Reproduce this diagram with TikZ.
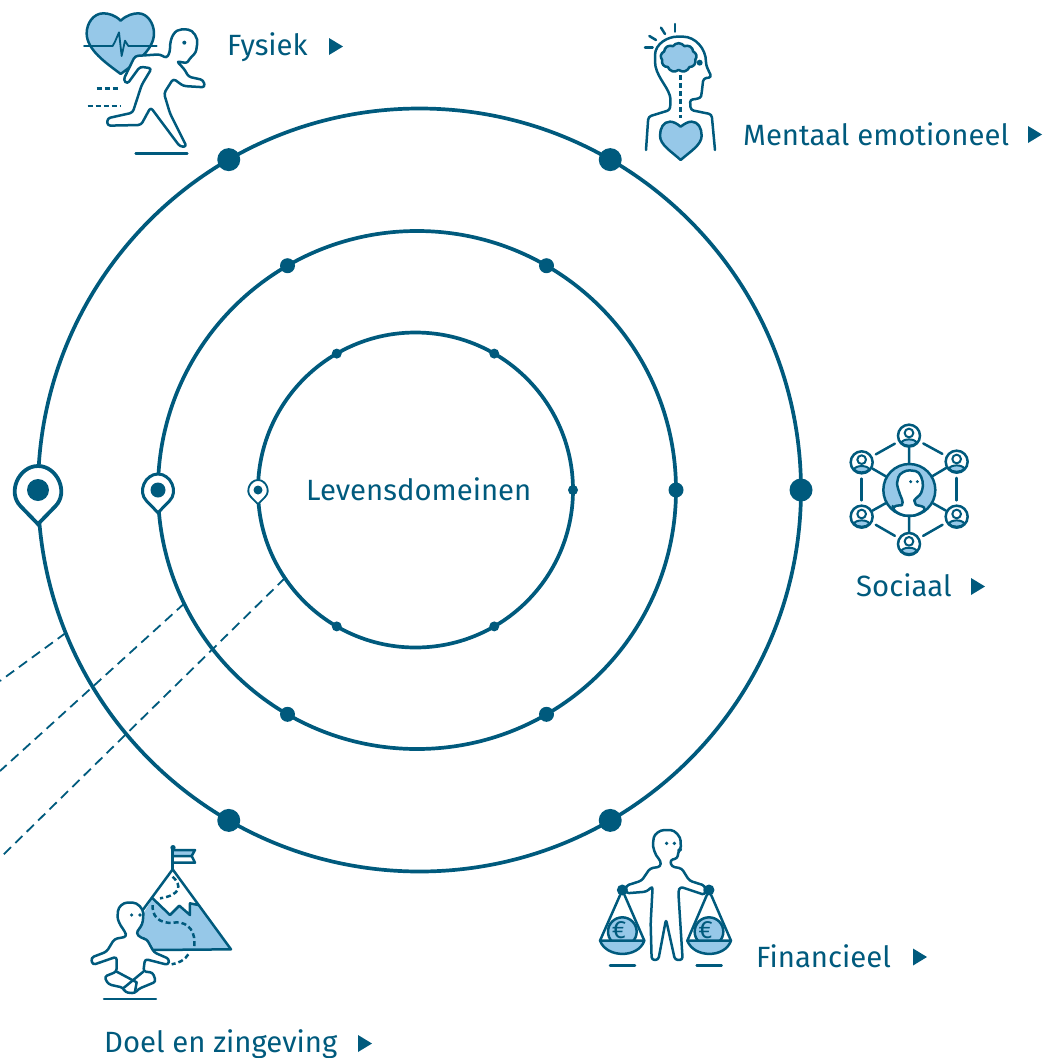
\documentclass[tikz,border=0pt]{standalone}
\usepackage{fontspec}
\setmainfont{Fira Sans}
\usetikzlibrary{shapes.symbols}
\definecolor{ringblue}{RGB}{0,90,125}
\definecolor{skyblue}{RGB}{150,200,232}
\tikzset{
	ring/.style={circle,draw=ringblue,line width=3.7pt,inner sep=0pt,outer sep=0pt},
	ringdot/.style={circle,fill=ringblue,inner sep=0pt,outer sep=0pt},
	spoor/.style={draw=ringblue,line width=1.8pt,dash pattern=on 10pt off 6pt},
	iconline/.style={draw=ringblue,line width=2.5pt,line join=round,line cap=round},
	iconfill/.style={iconline,fill=skyblue},
	iconbody/.style={iconline,fill=white,rounded corners=3pt},
	icondash/.style={iconline,line cap=butt,dash pattern=on 5pt off 3pt},
	iconeye/.style={fill=ringblue},
	tekst/.style={text=ringblue,anchor=base west,inner sep=0pt,font=\fontsize{29.3}{32}\selectfont},
	friend/.style={circle,draw=ringblue,line width=2.5pt,fill=white,inner sep=0pt,minimum size=22pt},
	hub/.style={circle,draw=ringblue,line width=2.5pt,fill=skyblue,inner sep=0pt,minimum size=52pt},
	pinmark/.pic={
		\path[fill=white,draw=ringblue,line width=\pinline] (0,1.42) -- (-.72,.68)
			.. controls (-1.3,.1) and (-.8,-1) .. (0,-1)
			.. controls (.8,-1) and (1.3,.1) .. (.72,.68) -- cycle;
	},
	tipmark/.pic={
		\fill[ringblue] (0,-8.5) -- (14,0) -- (0,8.5) -- cycle;
	}
}
\newcommand{\pinline}{3pt}
\begin{document}
\begin{tikzpicture}[x=1pt,y=-1pt]
	\useasboundingbox (0,0) rectangle (1044,1058);

	\node[ring,minimum size=763pt] (outer) at (419.5,490) {};
	\node[ring,minimum size=518pt] (middle) at (417,490) {};
	\node[ring,minimum size=315pt] (inner) at (415.5,490) {};

	\foreach \a in {0,60,120,240,300}{
		\node[ringdot,minimum size=23pt] at (outer.\a) {};
		\node[ringdot,minimum size=15pt] at (middle.\a) {};
		\node[ringdot,minimum size=10pt] at (inner.\a) {};
	}

	\coordinate (endouter) at (0,681);
	\coordinate (endmiddle) at (0,771);
	\coordinate (endinner) at (0,858);
	\draw[spoor] (outer.202) -- (endouter);
	\draw[spoor] (middle.206) -- (endmiddle);
	\draw[spoor] (inner.214) -- (endinner);

	\renewcommand{\pinline}{3.8pt}
	\pic[scale=24] at (outer.180) {pinmark};
	\node[ringdot,minimum size=22pt] at (outer.180) {};
	\renewcommand{\pinline}{3pt}
	\pic[scale=16] at (middle.180) {pinmark};
	\node[ringdot,minimum size=15pt] at (middle.180) {};
	\renewcommand{\pinline}{1.8pt}
	\pic[scale=10] at (inner.180) {pinmark};
	\node[ringdot,minimum size=9pt] at (inner.180) {};

	\node[tekst] (centre) at (306,500) {Levensdomeinen};
	\node[tekst] (fysiek) at (227,55) {Fysiek};
	\node[tekst] (mentaal) at (743,145) {Mentaal emotioneel};
	\node[tekst] (sociaal) at (856,596) {Sociaal};
	\node[tekst] (financieel) at (756,967) {Financieel};
	\node[tekst] (doel) at (104,1052) {Doel en zingeving};
	\pic at (329,46.5) {tipmark};
	\pic at (1028,134.5) {tipmark};
	\pic at (971,586.5) {tipmark};
	\pic at (913,957) {tipmark};
	\pic at (358,1043.5) {tipmark};

	\begin{scope}[shift={(70,0)},scale=.3333]
		\path[iconfill] (152,62) .. controls (135,45) and (115,40) .. (100,40)
			.. controls (70,40) and (50,70) .. (50,100)
			.. controls (50,150) and (110,190) .. (152,222)
			.. controls (195,190) and (252,150) .. (252,100)
			.. controls (252,70) and (232,40) .. (205,40)
			.. controls (190,40) and (170,45) .. (152,62) -- cycle;
		\draw[iconline,line width=1.8pt] (42,138) -- (128,138) -- (135,125) -- (147,97) -- (155,168) -- (165,122) -- (175,138) -- (260,138);
		\path[iconbody] (160,240) -- (195,168) -- (270,163) -- (290,175) -- (300,155)
			.. controls (300,110) and (315,88) .. (345,88)
			.. controls (370,90) and (385,115) .. (380,140)
			.. controls (378,160) and (365,170) .. (358,178)
			.. controls (350,190) and (335,187) .. (320,183)
			-- (345,210) -- (355,230) -- (400,240) -- (405,262) -- (340,258) -- (310,236)
			-- (282,280) -- (300,340) -- (350,440) -- (330,440) -- (242,322) -- (213,375)
			-- (112,377) -- (112,355) -- (188,338) -- (215,255) -- (245,205) -- (210,200)
			-- (172,252) -- cycle;
		\fill[iconeye] (343,128) circle (6);
		\draw[icondash] (80,265) -- (150,265);
		\draw[icondash] (53,318) -- (150,318);
		\draw[iconline] (197,460) -- (352,460);
	\end{scope}

	\begin{scope}[shift={(630,15)},scale=.3333]
		\path[iconline,rounded corners=3pt] (48,405) -- (55,305) -- (120,285) -- (122,250)
			.. controls (110,210) and (75,180) .. (75,130)
			.. controls (75,85) and (115,65) .. (150,65)
			.. controls (195,65) and (228,100) .. (228,150)
			-- (245,187) -- (220,190) -- (215,235)
			.. controls (212,250) and (195,253) .. (180,253)
			-- (182,285) -- (245,298) -- (255,405);
		\node[cloud,cloud puffs=9,cloud puff arc=110,aspect=1.25,iconfill,inner sep=0pt,minimum width=36pt,minimum height=29pt] (brain) at (146,128) {};
		\fill[iconeye] (209,143) circle (9);
		\draw[icondash] (152,180) -- (152,310);
		\path[iconfill] (152,335) .. controls (140,325) and (130,320) .. (120,320)
			.. controls (100,320) and (90,340) .. (90,362)
			.. controls (90,390) and (125,410) .. (152,435)
			.. controls (180,410) and (215,390) .. (215,362)
			.. controls (215,340) and (205,320) .. (185,320)
			.. controls (175,320) and (165,325) .. (152,335) -- cycle;
		\draw[iconline] (45,98) -- (68,98);
		\draw[iconline] (58,63) -- (78,75);
		\draw[iconline] (93,38) -- (105,57);
		\draw[iconline] (135,27) -- (135,50);
	\end{scope}

	\begin{scope}[shift={(840,415)},scale=.3333]
		\node[hub] (hubnode) at (208,225) {};
		\foreach \nm/\px/\py in {pa/207/62,pb/350/140,pc/350/305,pd/207/387,pe/65/305,pf/65/142}{
			\node[friend] (\nm) at (\px,\py) {};
			\begin{scope}[shift={(\px,\py)}]
				\draw[iconline,line width=2pt] (0,-8) circle (13);
				\path[iconfill,line width=2pt] (-23,21) .. controls (-18,8) and (18,8) .. (23,21)
					.. controls (15,33) and (-15,33) .. (-23,21) -- cycle;
			\end{scope}
			\draw[iconline] (hubnode) -- (\nm);
		}
		\foreach \u/\v in {pa/pb,pb/pc,pc/pd,pd/pe,pe/pf,pf/pa}{
			\draw[iconline,shorten <=4pt,shorten >=4pt] (\u) -- (\v);
		}
		\path[iconbody] (158,282) .. controls (168,270) and (185,272) .. (190,262)
			.. controls (178,235) and (170,210) .. (173,195)
			.. controls (178,175) and (198,165) .. (218,167)
			.. controls (240,170) and (250,195) .. (248,222)
			-- (240,242) -- (225,250) -- (222,262)
			.. controls (230,272) and (245,272) .. (258,282)
			.. controls (240,296) and (225,302) .. (208,302)
			.. controls (190,302) and (175,296) .. (158,282) -- cycle;
		\fill[iconeye] (212,200) circle (5);
		\fill[iconeye] (232,200) circle (5);
	\end{scope}

	\begin{scope}[shift={(590,820)},scale=.3333]
		\path[iconbody] (108,197) -- (155,182) -- (180,145) -- (212,140) -- (212,122)
			.. controls (195,105) and (188,80) .. (190,62)
			.. controls (193,42) and (210,30) .. (232,30)
			.. controls (255,30) and (272,50) .. (272,72)
			-- (273,88) -- (265,92) -- (263,115) -- (240,120) -- (245,140) -- (275,145)
			-- (298,182) -- (345,197) -- (345,225) -- (270,200) -- (265,215) -- (278,420)
			-- (255,420) -- (228,298) -- (205,420) -- (185,420) -- (182,310) -- (188,198)
			-- (170,215) -- (108,220) -- cycle;
		\fill[iconeye] (230,70) circle (5.5);
		\fill[iconeye] (253,70) circle (5.5);
		\path[iconfill] (97,335) circle (43);
		\path[iconfill] (357,335) circle (43);
		\node[text=ringblue,inner sep=0pt,font=\fontsize{25}{25}\selectfont] (euroleft) at (87,331) {€};
		\node[text=ringblue,inner sep=0pt,font=\fontsize{25}{25}\selectfont] (euroright) at (347,331) {€};
		\node[ringdot,minimum size=11pt] (handleft) at (97,210) {};
		\node[ringdot,minimum size=11pt] (handright) at (357,210) {};
		\coordinate (panll) at (30,362);
		\coordinate (panlr) at (163,362);
		\coordinate (panrl) at (292,362);
		\coordinate (panrr) at (423,362);
		\draw[iconline] (panll) -- (handleft) -- (panlr);
		\draw[iconline] (panrl) -- (handright) -- (panrr);
		\path[iconfill] (panll) .. controls (50,415) and (145,415) .. (panlr) -- cycle;
		\path[iconfill] (panrl) .. controls (312,415) and (405,415) .. (panrr) -- cycle;
		\draw[iconline] (60,437) -- (135,437);
		\draw[iconline] (320,437) -- (395,437);
	\end{scope}

	\begin{scope}[shift={(80,835)},scale=.3333]
		\fill[skyblue] (218,190) -- (270,240) -- (298,212) -- (330,240) -- (330,205) -- (355,210) -- (453,343) -- (200,343) -- (150,300) -- cycle;
		\draw[iconline] (218,190) -- (270,240) -- (298,212) -- (330,240) -- (330,205) -- (355,210);
		\draw[iconline] (170,250) -- (278,103) -- (453,343) -- (220,345);
		\draw[iconline] (278,103) -- (278,38);
		\fill[iconeye] (279,38) circle (8);
		\path[iconfill] (278,45) -- (345,45) -- (335,63) -- (278,63) -- cycle;
		\draw[iconline] (335,63) -- (345,83) -- (278,83);
		\draw[icondash] (278,125) .. controls (305,150) and (305,180) .. (240,190);
		\draw[icondash] (218,210) .. controls (215,260) and (260,268) .. (290,262)
			.. controls (325,262) and (350,290) .. (342,340);
		\draw[icondash] (325,358) .. controls (315,375) and (295,385) .. (275,388);
		\path[iconbody] (190,245) -- (187,268) -- (168,295) -- (185,310) -- (200,312) -- (222,352)
			-- (268,372) -- (265,390) -- (195,372) -- (190,410) -- (218,412) -- (228,440)
			-- (175,462) -- (165,475) -- (135,472) -- (130,458) -- (85,448) -- (73,425)
			-- (110,410) -- (110,365) -- (38,390) -- (33,368) -- (80,350) -- (103,312)
			-- (140,305) -- (135,290)
			.. controls (120,270) and (113,255) .. (113,238)
			.. controls (115,215) and (130,203) .. (150,203)
			.. controls (172,203) and (190,220) .. (190,245) -- cycle;
		\draw[iconline] (110,410) -- (170,442) -- (165,470);
		\draw[iconline] (190,410) -- (132,458);
		\fill[iconeye] (155,240) circle (5.5);
		\fill[iconeye] (180,240) circle (5.5);
		\draw[iconline] (72,492) -- (228,492);
	\end{scope}
\end{tikzpicture}
\end{document}
